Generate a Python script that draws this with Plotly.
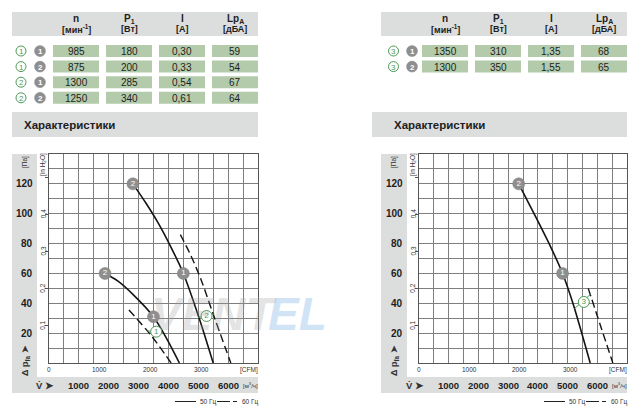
import plotly.graph_objects as go

W, H = 640, 413
def fx(p): return p / W
def fy(p): return 1 - p / H

FONT = "Liberation Sans, Arial, sans-serif"
GRAY_BG = "#dcdddd"
GREEN_CELL = "#b3cbab"
GREEN = "#4e9a56"
PT_GRAY = "#8e8e8e"

# ---------------- data ----------------
hdr_top = ["n", "P<sub>1</sub>", "I", "Lp<sub>A</sub>"]
hdr_unit = ["[мин<sup>-1</sup>]", "[Вт]", "[A]", "[дБА]"]

left_curve = ["1", "1", "2", "2"]
left_point = ["1", "2", "1", "2"]
left_n = ["985", "875", "1300", "1250"]
left_P = ["180", "200", "285", "340"]
left_I = ["0,30", "0,33", "0,54", "0,61"]
left_Lp = ["59", "54", "67", "64"]

right_curve = ["3", "3"]
right_point = ["1", "2"]
right_n = ["1350", "1300"]
right_P = ["310", "350"]
right_I = ["1,35", "1,55"]
right_Lp = ["68", "65"]

m3h_ticks = [1000, 2000, 3000, 4000, 5000, 6000]
cfm_ticks = [0, 1000, 2000, 3000]
pa_ticks = [20, 40, 60, 80, 100, 120]
inh2o_ticks = [0.1, 0.2, 0.3, 0.4]
inh2o_minor = [0.1, 0.2, 0.3, 0.4, 0.5]

# left chart curves (m3/h, Pa)
c1_50_x = [1877, 2300, 2810, 3500, 3950, 4367]
c1_50_y = [60, 55, 46, 31, 16, 0]
c1_60_x = [2677, 3400, 4090]
c1_60_y = [35.5, 19, 0]
c2_50_x = [2810, 3250, 3650, 4100, 4500, 5030, 5500]
c2_50_y = [120, 107, 94, 77, 60, 30, 0]
c2_60_x = [4400, 4750, 5090, 5477, 6090]
c2_60_y = [86, 72, 56, 34, 0]
# operating points left
op_left_x = [2810, 4500, 1877, 3500]
op_left_y = [120, 60, 60, 31]
op_left_t = ["2", "1", "2", "1"]
# curve labels left
cl_left_x = [3590, 5277]
cl_left_y = [21, 31.5]
cl_left_t = ["1", "2"]

# right chart curves
c3_50_x = [3356, 4027, 4450, 4832, 5180, 5762]
c3_50_y = [120, 94, 77, 60, 40, 0]
c3_60_x = [5695, 6100, 6523]
c3_60_y = [50, 25.5, 0]
op_right_x = [3356, 4832]
op_right_y = [120, 60]
op_right_t = ["2", "1"]
cl_right_x = [5547]
cl_right_y = [40.9]
cl_right_t = ["3"]

PA_PER_INH2O = 249.089
CFM_TO_M3H = 1.699

fig = go.Figure()
shapes = []
ann = []

def rect(x0, y0, x1, y1, color):
    shapes.append(dict(type="rect", xref="paper", yref="paper", x0=fx(x0), x1=fx(x1),
                       y0=fy(y1), y1=fy(y0), fillcolor=color, line=dict(width=0), layer="below"))

def text(x, y, t, size=10, color="#1e1e1e", bold=False, xanchor="center", angle=0, family=FONT):
    if bold:
        t = "<b>" + t + "</b>"
    ann.append(dict(x=fx(x), y=fy(y), xref="paper", yref="paper", text=t, showarrow=False,
                    font=dict(size=size, color=color, family=family), xanchor=xanchor,
                    yanchor="middle", textangle=angle))

def circ_paper(x, y, kind, label):
    if kind == "green":
        shapes.append(dict(type="circle", xref="paper", yref="paper", xsizemode="pixel",
                           ysizemode="pixel", xanchor=fx(x), yanchor=fy(y), x0=-5, x1=5, y0=-5, y1=5,
                           fillcolor="white", line=dict(color=GREEN, width=1)))
        text(x, y + 0.5, label, size=8, color=GREEN)
    else:
        shapes.append(dict(type="circle", xref="paper", yref="paper", xsizemode="pixel",
                           ysizemode="pixel", xanchor=fx(x), yanchor=fy(y), x0=-5.5, x1=5.5, y0=-5.5, y1=5.5,
                           fillcolor=PT_GRAY, line=dict(color=PT_GRAY, width=0.5)))
        text(x, y + 0.5, label, size=8, color="white", bold=True)

# ---------------- tables ----------------
def table(x0, x1, col_l, circ_g, circ_p, curve, point, cols):
    rect(x0, 12, x1, 36, GRAY_BG)
    cw = 46
    gap = (x1 - col_l - 4 * cw) / 3
    lefts = [col_l + i * (cw + gap) for i in range(4)]
    for i, l in enumerate(lefts):
        cx = l + cw / 2
        text(cx, 18.5, hdr_top[i], size=10, bold=True)
        text(cx, 29, hdr_unit[i], size=9, bold=True)
    for r in range(len(curve)):
        yc = 51 + r * 15.6
        circ_paper(circ_g, yc, "green", curve[r])
        circ_paper(circ_p, yc, "gray", point[r])
        for i, l in enumerate(lefts):
            rect(l, yc - 6, l + cw, yc + 6, GREEN_CELL)
            text(l + cw / 2, yc + 0.5, cols[i][r], size=10)

table(12, 258, 53, 21, 40, left_curve, left_point, [left_n, left_P, left_I, left_Lp])
table(381, 627, 422, 393.5, 412, right_curve, right_point, [right_n, right_P, right_I, right_Lp])

# ---------------- section titles ----------------
rect(12, 112, 258, 137, GRAY_BG)
text(22, 125, "Характеристики", size=11.5, bold=True, xanchor="left")
rect(372, 112, 627, 137, GRAY_BG)
text(392, 125, "Характеристики", size=11.5, bold=True, xanchor="left")

# ---------------- charts ----------------
charts = [
    dict(px0=49, px1=258, gx0=12, gx1=37, xa="x", ya="y", ya2="y3",
         curves=[(c1_50_x, c1_50_y, False), (c1_60_x, c1_60_y, True),
                 (c2_50_x, c2_50_y, False), (c2_60_x, c2_60_y, True)],
         op=(op_left_x, op_left_y, op_left_t), cl=(cl_left_x, cl_left_y, cl_left_t),
         leaders=[([3300, 3800], [21.5, 20.5]), ([5000, 5540], [30.5, 32.8])]),
    dict(px0=419, px1=627, gx0=381, gx1=407, xa="x2", ya="y2", ya2="y4",
         curves=[(c3_50_x, c3_50_y, False), (c3_60_x, c3_60_y, True)],
         op=(op_right_x, op_right_y, op_right_t), cl=(cl_right_x, cl_right_y, cl_right_t),
         leaders=[([5235, 5772], [36.5, 46])]),
]

PLOT_TOP, PLOT_BOT = 154, 363
layout_axes = {}
for k, c in enumerate(charts):
    rect(c["gx0"], PLOT_TOP, c["gx1"], 393, GRAY_BG)
    rect(c["gx1"], 377, c["px1"], 393, GRAY_BG)
    xa, ya, ya2 = c["xa"], c["ya"], c["ya2"]
    xname = "xaxis" if xa == "x" else "xaxis" + xa[1:]
    yname = "yaxis" if ya == "y" else "yaxis" + ya[1:]
    y2name = "yaxis" + ya2[1:]
    common = dict(showgrid=True, gridcolor="#7e7e7e", gridwidth=1, zeroline=False,
                  showline=True, linecolor="#555555", linewidth=1, mirror=True,
                  showticklabels=False, ticks="", fixedrange=True)
    layout_axes[xname] = dict(domain=[fx(c["px0"]), fx(c["px1"])], range=[0, 7000],
                              tick0=0, dtick=500, anchor=ya, **common)
    layout_axes[yname] = dict(domain=[fy(PLOT_BOT), fy(PLOT_TOP)], range=[0, 140],
                              tick0=0, dtick=10, anchor=xa, **common)
    layout_axes[y2name] = dict(overlaying=ya, anchor=xa, side="left",
                               range=[0, 140 / PA_PER_INH2O], tickvals=inh2o_minor,
                               ticks="outside", ticklen=3, tickcolor="#555",
                               showticklabels=False, showgrid=False, zeroline=False,
                               showline=False, fixedrange=True)
    for cx, cy, dashed in c["curves"]:
        fig.add_trace(go.Scatter(x=cx, y=cy, xaxis=xa, yaxis=ya, mode="lines",
                                 line=dict(color="#141414", width=1.4 if dashed else 1.6,
                                           shape="spline", smoothing=0.8,
                                           dash="8px,4px" if dashed else "solid"),
                                 hoverinfo="skip", showlegend=False))
    for lx, ly in c["leaders"]:
        fig.add_trace(go.Scatter(x=lx, y=ly, xaxis=xa, yaxis=ya, mode="lines",
                                 line=dict(color=GREEN, width=1), hoverinfo="skip", showlegend=False))
    ox, oy, ot = c["op"]
    fig.add_trace(go.Scatter(x=ox, y=oy, xaxis=xa, yaxis=ya, mode="markers+text", text=ot,
                             textposition="middle center",
                             textfont=dict(size=8, color="white", family=FONT),
                             marker=dict(size=12, color=PT_GRAY, line=dict(color="#7a7a7a", width=0.5)),
                             hoverinfo="skip", showlegend=False))
    lx, ly, lt = c["cl"]
    fig.add_trace(go.Scatter(x=lx, y=ly, xaxis=xa, yaxis=ya, mode="markers+text", text=lt,
                             textposition="middle center",
                             textfont=dict(size=8, color=GREEN, family=FONT),
                             marker=dict(size=11, color="white", line=dict(color=GREEN, width=1)),
                             hoverinfo="skip", showlegend=False))
    for v in pa_ticks:
        ann.append(dict(x=fx(c["gx1"] - 2), y=v, xref="paper", yref=ya, text="<b>%d</b>" % v,
                        showarrow=False, xanchor="right", yanchor="middle",
                        font=dict(size=10, color="#1e1e1e", family=FONT)))
    for v in inh2o_ticks:
        ann.append(dict(x=fx(c["px0"] - 6), y=v, xref="paper", yref=ya2,
                        text=("%.1f" % v).replace(".", ","), showarrow=False, textangle=-90,
                        xanchor="center", yanchor="middle", font=dict(size=6.5, color="#333", family=FONT)))
    text(c["gx0"] + 13, 162, "[Па]", size=6.5, color="#333", angle=-90)
    text(c["px0"] - 6, 165, "[in H<sub>2</sub>O]", size=6.5, color="#333", angle=-90)
    text(c["gx0"] + 13, 361, "<b>Δ p<sub>fa</sub> ➤</b>", size=9, color="#333", angle=-90)
    for v in cfm_ticks:
        ann.append(dict(x=v * CFM_TO_M3H, y=fy(369.5), xref=xa, yref="paper", text=str(v),
                        showarrow=False, xanchor="center", yanchor="middle",
                        font=dict(size=6.5, color="#333", family=FONT)))
    text(c["px1"] - 9, 369.5, "[CFM]", size=6.5, color="#333")
    for v in m3h_ticks:
        ann.append(dict(x=v, y=fy(385), xref=xa, yref="paper", text="<b>%d</b>" % v,
                        showarrow=False, xanchor="center", yanchor="middle",
                        font=dict(size=9.5, color="#1e1e1e", family=FONT)))
    text(c["px0"] - 4, 385, "<b>V̇ ➤</b>", size=9.5, color="#333")
    text(c["px1"] - 8, 385, "[м<sup>3</sup>/ч]", size=6, color="#333")
    ly0 = 401.5
    shapes.append(dict(type="line", xref="paper", yref="paper", x0=fx(c["px1"] - 83), x1=fx(c["px1"] - 62),
                       y0=fy(ly0), y1=fy(ly0), line=dict(color="#222", width=1)))
    text(c["px1"] - 60, ly0, "50 Гц", size=6.5, color="#333", xanchor="left")
    shapes.append(dict(type="line", xref="paper", yref="paper", x0=fx(c["px1"] - 41), x1=fx(c["px1"] - 20),
                       y0=fy(ly0), y1=fy(ly0), line=dict(color="#222", width=1, dash="13px,3px,4px")))
    text(c["px1"] - 18, ly0, "60 Гц", size=6.5, color="#333", xanchor="left")

# watermark
ann.append(dict(x=fx(214), y=fy(314), xref="paper", yref="paper", text="<b><i>VENT</i></b>",
                showarrow=False, font=dict(size=46, color="rgba(160,160,160,0.28)", family=FONT),
                xanchor="center", yanchor="middle"))
ann.append(dict(x=fx(297), y=fy(314), xref="paper", yref="paper", text="<b><i>EL</i></b>",
                showarrow=False, font=dict(size=46, color="rgba(140,190,235,0.42)", family=FONT),
                xanchor="center", yanchor="middle"))

fig.update_layout(width=W, height=H, margin=dict(l=0, r=0, t=0, b=0),
                  paper_bgcolor="white", plot_bgcolor="white",
                  shapes=shapes, annotations=ann, showlegend=False,
                  font=dict(family=FONT), **layout_axes)

fig.write_html("out.html", config={"displayModeBar": False, "staticPlot": True},
               post_script="document.body.style.margin='0';document.body.style.overflow='hidden';")
